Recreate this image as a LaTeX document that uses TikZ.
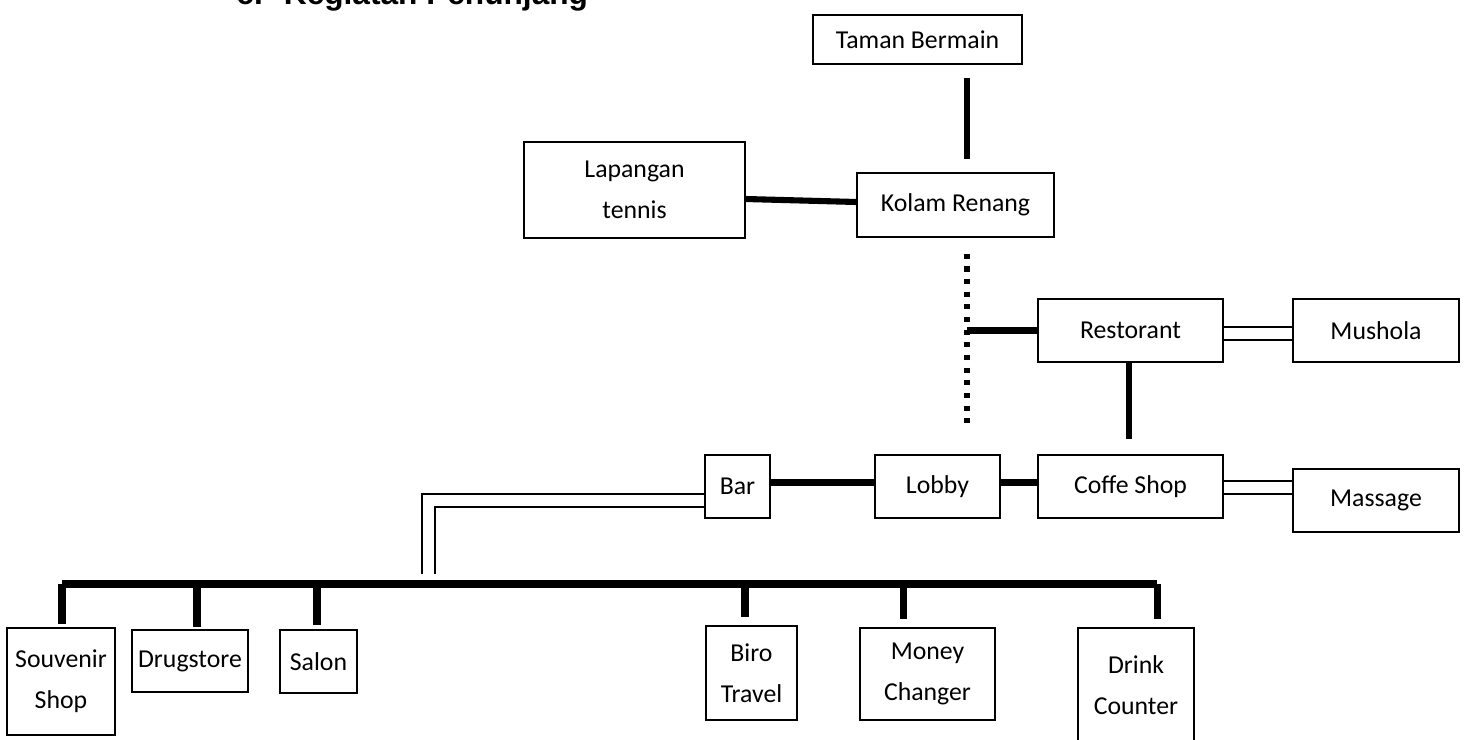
\documentclass[tikz,border=0pt]{standalone}
\usepackage{fontspec}
\setmainfont{Carlito}
\newfontfamily\titlefont{Liberation Sans}
\usetikzlibrary{calc}

\begin{document}
\begin{tikzpicture}[
    x=0.015cm, y=-0.015cm,
    box/.style={draw, line width=0.6pt, inner sep=0pt, align=center,
      font=\fontsize{11}{17.5}\selectfont},
    sz/.style 2 args={minimum width=#1*0.015cm, minimum height=#2*0.015cm},
    thk/.style={line width=2.6pt},
    bus/.style={line width=3pt},
    dots/.style={line width=2.2pt, dash pattern=on 2.2pt off 3.2pt},
    dbl/.style={double, double distance=4.8pt, line width=0.6pt}
  ]
    \useasboundingbox (0,0) rectangle (1468,740);
    \clip (0,0) rectangle (1468,740);

    \node[anchor=base west, inner sep=0pt, font=\titlefont\bfseries\fontsize{13.5}{16}\selectfont] (title) at (236,5) {c.\hspace{9pt}Kegiatan Penunjang};

    % upper part
    \node[box, sz={209}{49}] (taman) at (917.5,39.5) {Taman Bermain};
    \node[box, sz={197}{64}] (kolam) at (955.5,205) {Kolam Renang};
    \node[box, sz={221}{96}] (lapangan) at (634.5,190) {Lapangan\\tennis};
    \node[box, sz={185}{63}] (restorant) at (1130.5,330.5) {Restorant};
    \node[box, sz={166}{63}] (mushola) at (1376,330.5) {Mushola};

    % middle row
    \node[box, sz={65}{63}] (bar) at (737.5,486.5) {Bar};
    \node[box, sz={125}{63}] (lobby) at (937.5,486.5) {Lobby};
    \node[box, sz={185}{63}] (coffe) at (1130.5,486.5) {Coffe Shop};
    \node[box, sz={166}{63}] (massage) at (1376,500.5) {Massage};

    % bottom row
    \node[box, sz={108}{107}] (souvenir) at (61,681.5) {Souvenir\\Shop};
    \node[box, sz={116}{62}] (drugstore) at (190,661) {Drugstore};
    \node[box, sz={77}{63}] (salon) at (318.5,661.5) {Salon};
    \node[box, sz={91}{94}] (biro) at (751.5,673) {Biro\\Travel};
    \node[box, sz={135}{92}] (money) at (927.5,674) {Money\\Changer};
    \node[box, sz={116}{114}] (drink) at (1136,685) {Drink\\Counter};

    \coordinate (axis) at (967,0);
    \coordinate (rdown) at (1129,0);
    \coordinate (barbend) at (428.5,500.5);
    \coordinate (busL) at (62,584);
    \coordinate (busR) at (1157,584);

    \draw[thk] ($(axis |- taman.south)+(0,13)$) -- ($(axis |- kolam.north)+(0,-13)$);
    \draw[thk] ($(lapangan.east)+(0,9)$) -- ($(kolam.west)+(0,-3)$);
    \draw[dots] ($(axis |- kolam.south)+(0,16)$) -- ($(axis |- coffe.north)+(0,-28)$);
    \draw[thk] (axis |- restorant.west) -- (restorant.west);
    \draw[thk] (rdown |- restorant.south) -- ($(rdown |- coffe.north)+(0,-15)$);
    \draw[dbl] ($(restorant.east)+(0,3)$) -- ($(mushola.west)+(0,3)$);
    \draw[dbl] ($(coffe.east)+(0,1)$) -- ($(massage.west)+(0,-13)$);
    \draw[thk] ($(bar.east)+(0,-4)$) -- ($(lobby.west)+(0,-4)$);
    \draw[thk] ($(lobby.east)+(0,-4)$) -- ($(coffe.west)+(0,-4)$);
    \draw[dbl] (bar.west |- barbend) -- (barbend) -- ($(barbend |- busL)+(0,-10)$);

    % shop bus
    \draw[bus] (busL) -- (busR);
    \draw[bus] (busL) -- ($(busL |- souvenir.north)+(0,-3)$);
    \draw[bus] (197,584) -- ($(197,0 |- drugstore.north)+(0,-2)$);
    \draw[bus] (317,584) -- ($(317,0 |- salon.north)+(0,-4)$);
    \draw[bus] (745,584) -- ($(745,0 |- biro.north)+(0,-8)$);
    \draw[bus] (903,584) -- ($(903,0 |- money.north)+(0,-8)$);
    \draw[bus] (busR) -- ($(busR |- drink.north)+(0,-8)$);
\end{tikzpicture}
\end{document}
